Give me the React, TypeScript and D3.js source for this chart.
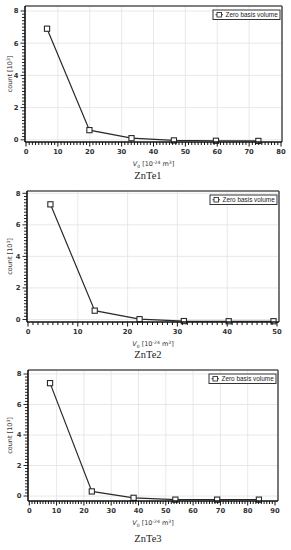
import React from 'react';
import * as d3 from 'd3';

// values (count in 10^3, V0 in 10^-24 m^3)
const volumeZnTe1 = [6.6, 19.9, 33.1, 46.4, 59.6, 72.9];
const countZnTe1 = [6.9, 0.6, 0.1, -0.04, -0.06, -0.07];
const volumeZnTe2 = [4.5, 13.4, 22.4, 31.3, 40.3, 49.3];
const countZnTe2 = [7.3, 0.56, 0.02, -0.1, -0.11, -0.11];
const volumeZnTe3 = [7.6, 22.9, 38.2, 53.5, 68.8, 84.1];
const countZnTe3 = [7.4, 0.3, -0.12, -0.24, -0.24, -0.24];

const xTicksZnTe1 = [0, 10, 20, 30, 40, 50, 60, 70, 80];
const xTicksZnTe2 = [0, 10, 20, 30, 40, 50];
const xTicksZnTe3 = [0, 10, 20, 30, 40, 50, 60, 70, 80, 90];
const yTicks = [0, 2, 4, 6, 8];
const captions = ['ZnTe1', 'ZnTe2', 'ZnTe3'];
const legendLabel = 'Zero basis volume';

interface PanelProps {
  box: { left: number; right: number; top: number; bottom: number };
  xRange: [number, number];
  yZero: number;
  yEight: number;
  xMax: number;
  xTicks: number[];
  volume: number[];
  count: number[];
  caption: string;
  labelY: number;
  captionY: number;
}

const tickFont = '"DejaVu Sans", sans-serif';

function Panel(p: PanelProps) {
  const { box } = p;
  const x = d3.scaleLinear().domain([0, p.xMax]).range(p.xRange);
  const y = d3.scaleLinear().domain([0, 8]).range([p.yZero, p.yEight]);
  const points = p.volume.map((v, i) => [v, p.count[i]] as [number, number]);
  const line = d3.line<[number, number]>()
    .x(d => x(d[0]))
    .y(d => y(d[1]));

  const xMinor = d3.range(0, p.xMax + 0.001, 1);
  const yMinor = d3.range(0, 8.001, 0.2);
  const midY = (box.top + box.bottom) / 2;
  const midX = (box.left + box.right) / 2;

  const legW = 67;
  const legX = box.right - legW - 2;
  const legY = box.top + 4;

  return (
    <g>
      {/* grid */}
      {p.xTicks.filter(t => t > 0 && t < p.xMax).map(t => (
        <line key={'gx' + t} x1={x(t)} x2={x(t)} y1={box.top} y2={box.bottom} stroke="#e2e2e2" strokeWidth={0.8} />
      ))}
      {yTicks.map(t => (
        <line key={'gy' + t} x1={box.left} x2={box.right} y1={y(t)} y2={y(t)} stroke="#e2e2e2" strokeWidth={0.8} />
      ))}

      {/* frame top / right */}
      <line x1={box.left} x2={box.right} y1={box.top} y2={box.top} stroke="#555" strokeWidth={1.6} />
      <line x1={box.right} x2={box.right} y1={box.top} y2={box.bottom} stroke="#555" strokeWidth={1.6} />

      {/* series */}
      <path d={line(points) || ''} fill="none" stroke="#2a2a2a" strokeWidth={1.2} />
      {points.map((d, i) => (
        <rect key={'m' + i} x={x(d[0]) - 2.6} y={y(d[1]) - 2.6} width={5.2} height={5.2}
          fill="#fff" stroke="#2a2a2a" strokeWidth={1.1} />
      ))}

      {/* x axis */}
      <line x1={box.left} x2={box.right} y1={box.bottom} y2={box.bottom} stroke="#111" strokeWidth={1.6} />
      {xMinor.map(t => (
        <line key={'xm' + t} x1={x(t)} x2={x(t)} y1={box.bottom} y2={box.bottom + (t % 10 === 0 ? 4.5 : 3)}
          stroke="#111" strokeWidth={1} />
      ))}
      {p.xTicks.map(t => (
        <text key={'xl' + t} x={x(t)} y={box.bottom + 12} textAnchor="middle" fontFamily={tickFont}
          fontSize={6.8} fontWeight="bold" fill="#333">{t}</text>
      ))}
      <text x={midX} y={p.labelY} textAnchor="middle" fontFamily={tickFont} fontSize={6.5} fill="#333">
        <tspan fontStyle="italic">V</tspan>
        <tspan fontSize={4.5} dy={1.5}>0</tspan>
        <tspan dy={-1.5}> [10</tspan>
        <tspan fontSize={4.5} dy={-2.5}>-24</tspan>
        <tspan dy={2.5}> m</tspan>
        <tspan fontSize={4.5} dy={-2.5}>3</tspan>
        <tspan dy={2.5}>]</tspan>
      </text>

      {/* y axis */}
      <line x1={box.left} x2={box.left} y1={box.top} y2={box.bottom} stroke="#111" strokeWidth={1.6} />
      {yMinor.map(t => (
        <line key={'ym' + t.toFixed(1)} x1={box.left} x2={box.left - (Math.abs(t % 2) < 0.01 ? 4.5 : 3)}
          y1={y(t)} y2={y(t)} stroke="#111" strokeWidth={0.9} />
      ))}
      {yTicks.map(t => (
        <text key={'yl' + t} x={box.left - 9} y={y(t) + 2.4} textAnchor="middle" fontFamily={tickFont}
          fontSize={6.8} fontWeight="bold" fill="#333">{t}</text>
      ))}
      <text transform={`translate(12,${midY}) rotate(-90)`} textAnchor="middle" fontFamily={tickFont}
        fontSize={6.5} fill="#333">
        <tspan>count [10</tspan>
        <tspan fontSize={4.5} dy={-2.5}>3</tspan>
        <tspan dy={2.5}>]</tspan>
      </text>

      {/* legend */}
      <rect x={legX} y={legY} width={legW} height={9.5} fill="#fff" stroke="#333" strokeWidth={1} />
      <line x1={legX + 2.5} x2={legX + 10} y1={legY + 4.75} y2={legY + 4.75} stroke="#333" strokeWidth={1} />
      <rect x={legX + 4} y={legY + 2.5} width={4.5} height={4.5} fill="#fff" stroke="#333" strokeWidth={0.9} />
      <text x={legX + 12.5} y={legY + 7} fontFamily='"Liberation Sans", Arial, sans-serif' fontSize={6.4}
        fill="#222">{legendLabel}</text>

      {/* caption */}
      <text x={148} y={p.captionY} textAnchor="middle" fontFamily='"Liberation Serif", serif'
        fontSize={10.5} fill="#222">{p.caption}</text>
    </g>
  );
}

export default function App() {
  return (
    <svg width={291} height={550} style={{ position: 'absolute', left: 0, top: 0, background: '#fff' }}
      fontFamily={tickFont}>
      <Panel box={{ left: 25, right: 282, top: 6, bottom: 142 }} xRange={[26, 281]} yZero={139.8} yEight={11}
        xMax={80} xTicks={xTicksZnTe1} volume={volumeZnTe1} count={countZnTe1} caption={captions[0]}
        labelY={166} captionY={178.5} />
      <Panel box={{ left: 27, right: 279, top: 191, bottom: 322 }} xRange={[28, 277]} yZero={319.5} yEight={193.3}
        xMax={50} xTicks={xTicksZnTe2} volume={volumeZnTe2} count={countZnTe2} caption={captions[1]}
        labelY={346} captionY={358} />
      <Panel box={{ left: 28, right: 278, top: 370, bottom: 501 }} xRange={[29.3, 275]} yZero={496} yEight={374}
        xMax={90} xTicks={xTicksZnTe3} volume={volumeZnTe3} count={countZnTe3} caption={captions[2]}
        labelY={525} captionY={542} />
    </svg>
  );
}
